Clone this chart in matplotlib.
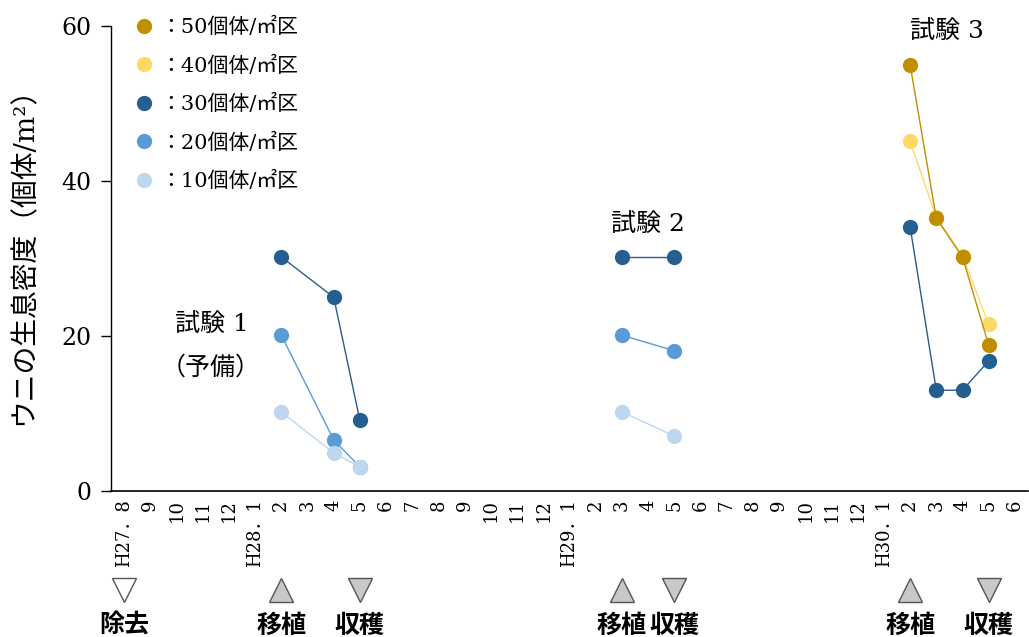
import matplotlib
matplotlib.use("Agg")
import matplotlib.pyplot as plt
from matplotlib import transforms
from matplotlib.lines import Line2D

plt.rcParams['font.family'] = ['DejaVu Serif', 'Noto Sans CJK JP']

# months on the x axis (H27.8 .. H30.6)
months = []
for yr, m0, m1 in [(27, 8, 12), (28, 1, 12), (29, 1, 12), (30, 1, 6)]:
    for m in range(m0, m1 + 1):
        months.append((yr, m))
month_labels = [f"H{y}．{m}" if (m == 1 or (y, m) == (27, 8)) else str(m) for y, m in months]

# density series (individuals / m2)
trial1_months = [(28, 2), (28, 4), (28, 5)]
trial1 = {30: [30.2, 25.0, 9.1], 20: [20.1, 6.6, 3.1], 10: [10.2, 4.9, 3.1]}
trial2_months = [(29, 3), (29, 5)]
trial2 = {30: [30.2, 30.2], 20: [20.1, 18.1], 10: [10.2, 7.1]}
trial3_months = [(30, 2), (30, 3), (30, 4), (30, 5)]
trial3 = {50: [55.0, 35.2, 30.2, 18.8], 40: [45.1, 35.3, 30.3, 21.5], 30: [34.1, 13.0, 13.0, 16.8]}

colors = {50: "#BF8F00", 40: "#FFD966", 30: "#255E91", 20: "#5B9BD5", 10: "#BDD7EE"}
draw_order = [30, 20, 10, 40, 50]

events = [((27, 8), "除去", "v", "white"), ((28, 2), "移植", "^", "#c8c8c8"), ((28, 5), "収穫", "v", "#c8c8c8"),
          ((29, 3), "移植", "^", "#c8c8c8"), ((29, 5), "収穫", "v", "#c8c8c8"),
          ((30, 2), "移植", "^", "#c8c8c8"), ((30, 5), "収穫", "v", "#c8c8c8")]

fig = plt.figure(figsize=(10.29, 6.37), dpi=100)
ax = fig.add_axes([111/1029, 1-491/637, 917/1029, 465/637])

for tm, tr in [(trial1_months, trial1), (trial2_months, trial2), (trial3_months, trial3)]:
    xs = [months.index(m) for m in tm]
    for k in draw_order:
        if k in tr:
            ax.plot(xs, tr[k], color=colors[k], lw=1.0, marker="o", ms=11,
                    markeredgewidth=0, zorder=3)

ax.set_xlim(-0.5, 34.5)
ax.set_ylim(0, 60)
ax.set_yticks([0, 20, 40, 60])
ax.tick_params(axis="y", labelsize=17, length=7, width=1, pad=7)
ax.set_xticks(range(len(months)))
ax.set_xticklabels(month_labels, rotation=90, fontsize=13, va="top")
ax.tick_params(axis="x", length=0, pad=6)
for s in ["top", "right"]:
    ax.spines[s].set_visible(False)
ax.spines["left"].set_linewidth(1.0)
ax.spines["bottom"].set_linewidth(1.2)

ax.set_ylabel("ウニの生息密度（個体/m²）", fontsize=20)
ax.yaxis.set_label_coords(-0.08, 0.52)

# legend
handles = [Line2D([], [], ls="none", marker="o", ms=11, markeredgewidth=0, color=colors[k]) for k in [50, 40, 30, 20, 10]]
labels = [f"：{k}個体/㎡区" for k in [50, 40, 30, 20, 10]]
ax.legend(handles, labels, loc="upper left", bbox_to_anchor=(-0.003, 1.06), frameon=False,
          fontsize=15, labelspacing=0.88, handletextpad=0.0, handlelength=1.6)

# trial labels
ax.text(months.index((28, 1)) - 1.65, 21.3, "試験 1", fontsize=18, ha="center", va="center")
ax.text(months.index((28, 1)) - 1.7, 15.9, "（予備）", fontsize=18, ha="center", va="center")
ax.text(months.index((29, 4)), 34.3, "試験 2", fontsize=18, ha="center", va="center")
ax.text(months.index((30, 3)) + 0.4, 59.2, "試験 3", fontsize=18, ha="center", va="center")

# event markers under the axis
trans = transforms.blended_transform_factory(ax.transData, ax.transAxes)
for m, lab, mk, fc in events:
    x = months.index(m)
    ax.plot([x], [-0.213], marker=mk, ms=17, mfc=fc, mec="#555555", mew=1.0,
            transform=trans, clip_on=False)
    ax.text(x, -0.29, lab, fontsize=18, fontweight="bold", ha="center", va="center",
            family=["Noto Sans CJK JP"], transform=trans)

fig.savefig("out.png", dpi=100)
